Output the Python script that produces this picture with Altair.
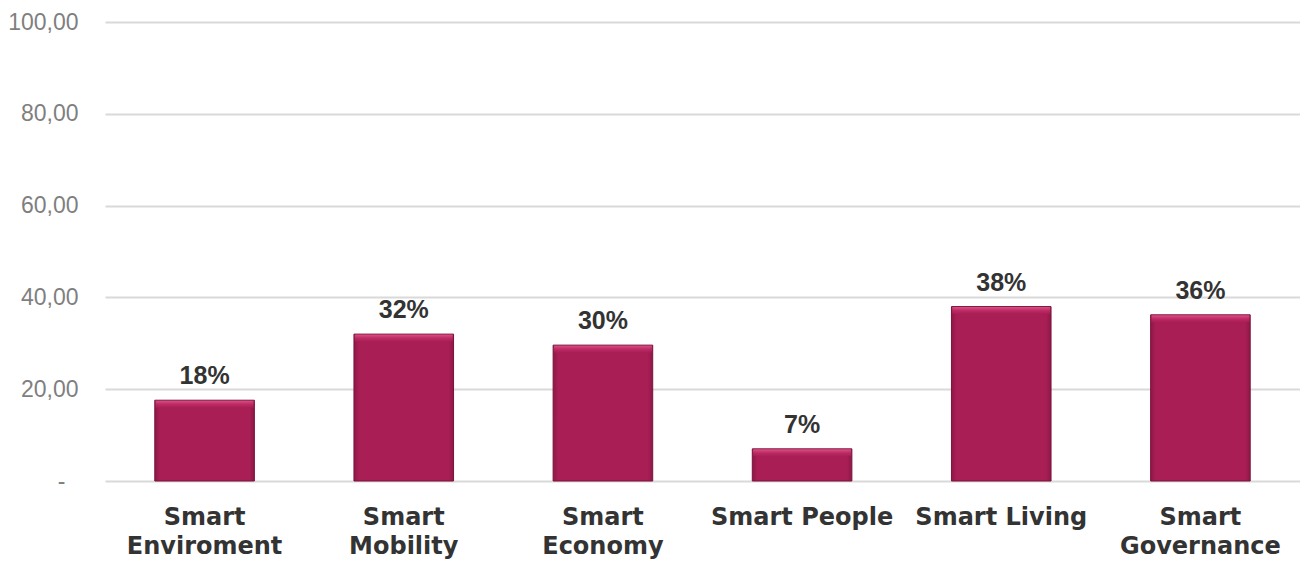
import altair as alt
import pandas as pd

categories = ["Smart|Enviroment", "Smart|Mobility", "Smart|Economy", "Smart People", "Smart Living", "Smart|Governance"]
values = [17.6, 32.0, 29.6, 7.0, 38.0, 36.2]
value_labels = ["18%", "32%", "30%", "7%", "38%", "36%"]
y_ticks = [0, 20, 40, 60, 80, 100]

df = pd.DataFrame({"cat": categories, "val": values, "lab": value_labels})

x_enc = alt.X("cat:N", sort=None, scale=alt.Scale(paddingInner=0.5, paddingOuter=0.25),
              axis=alt.Axis(title=None, labelAngle=0, labelFont="DejaVu Sans", labelFontWeight="bold",
                            labelFontSize=24, labelColor="#333333", labelPadding=24, labelLineHeight=29,
                            labelExpr="split(datum.label, '|')", domain=False, ticks=False,
                            labelBaseline="top", labelLimit=300))
y_enc = alt.Y("val:Q", scale=alt.Scale(domain=[0, 100], nice=False),
              axis=alt.Axis(title=None, values=y_ticks, labelFont="Liberation Sans", labelFontSize=23,
                            labelColor="#7f7f7f",
                            labelPadding={"condition": {"test": "datum.value == 0", "value": 40}, "value": 27},
                            domain=False, ticks=False,
                            gridColor="#d9d9d9", gridWidth=2,
                            labelExpr="datum.value == 0 ? '-' : replace(format(datum.value, '.2f'), '.', ',')"))

bars = alt.Chart(df).mark_bar(
    color=alt.Gradient(gradient="linear", x1=0, y1=0, x2=1, y2=0,
                       stops=[alt.GradientStop(color="#8e1847", offset=0),
                              alt.GradientStop(color="#a81e55", offset=0.05),
                              alt.GradientStop(color="#a81e55", offset=0.95),
                              alt.GradientStop(color="#8e1847", offset=1)]),
    stroke="#7a1238", strokeWidth=1
).encode(x=x_enc, y=y_enc)

bevel = alt.Chart(df).mark_tick(
    thickness=7, size=98, yOffset=4,
    color=alt.Gradient(gradient="linear", x1=0, y1=0, x2=0, y2=1,
                       stops=[alt.GradientStop(color="#f0649a", offset=0),
                              alt.GradientStop(color="#c8306c", offset=0.5),
                              alt.GradientStop(color="#a81e55", offset=1)])
).encode(x=alt.X("cat:N", sort=None), y="val:Q")

texts = alt.Chart(df).mark_text(
    font="Liberation Sans", fontWeight="bold", fontSize=25, color="#333333", baseline="bottom", dy=-11
).encode(x=alt.X("cat:N", sort=None), y="val:Q", text="lab:N")

chart = (bars + bevel + texts).properties(
    width=1195, height=459,
    autosize=alt.AutoSizeParams(type="none"),
    padding={"left": 97, "top": 14, "right": 0, "bottom": 80}
).configure_view(stroke=None)

chart.save("out.html", embed_options={"renderer": "svg", "actions": False})
